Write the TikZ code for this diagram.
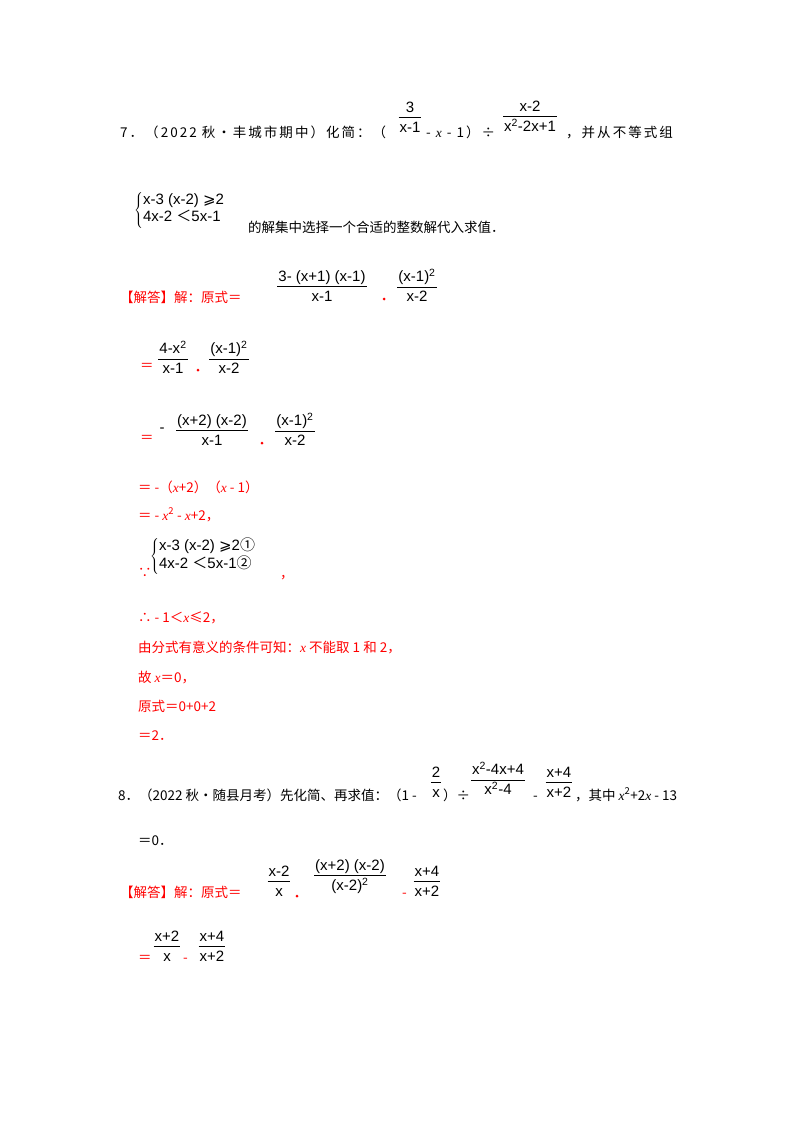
\documentclass[tikz,border=0pt]{standalone}
\usepackage{fontspec}
\setmainfont{Liberation Serif}
\newfontfamily\cjk{Noto Sans CJK SC}
\newfontfamily\cjkw[LetterSpace=15]{Noto Sans CJK SC}
\newfontfamily\ser{Liberation Serif}
\newfontfamily\fs{Liberation Sans}
\newfontfamily\dv{DejaVu Sans}
\newcommand{\X}{{\ser\itshape x}}
\newcommand{\fr}[2]{{\fs\renewcommand{\arraystretch}{1.0}\setlength{\tabcolsep}{1pt}\begin{tabular}{c}#1\rule[-3pt]{0pt}{3pt}\\\hline\rule{0pt}{15pt}#2\end{tabular}}}
\newcommand{\sq}{\textsuperscript{2}}
\tikzset{
 t/.style={anchor=base west,inner sep=0pt,font=\cjk\fontsize{13.5}{16}\selectfont},
 tw/.style={anchor=base west,inner sep=0pt,font=\cjkw\fontsize{13.5}{16}\selectfont},
 r/.style={t,text=red},
 f/.style={anchor=center,inner sep=0pt,font=\fs\fontsize{15}{17}\selectfont},
 br/.style={anchor=west,inner sep=0pt,font=\fs\fontsize{15}{17}\selectfont},
 dt/.style={circle,fill=red,inner sep=0pt,minimum size=3pt}
}
\begin{document}
\begin{tikzpicture}[x=1pt,y=-1pt]
\useasboundingbox (0,0) rectangle (800,1132);
% Problem 7
\node[tw] (p7a) at (120,137) {7．（2022 秋•丰城市期中）化简：（};
\node[f] (f1) at (410,119) {\fr{3}{x-1}};
\node[tw] (p7b) at (426,137) {- \X\ - 1）÷};
\node[f] (f2) at (530,118) {\fr{x-2}{x\sq-2x+1}};
\node[tw] (p7c) at (566,137) {，并从不等式组};
\node[br] (s1) at (134,210) {$\left\{\vcenter{\hbox{\fs\begin{tabular}{@{}l@{}}x-3 (x-2) {\dv ⩾}2\\4x-2 {\cjk ＜}5x-1\end{tabular}}}\right.$};
\node[t] (p7d) at (248,232) {的解集中选择一个合适的整数解代入求值．};
% solution 7
\node[r] (a1) at (120,302) {【解答】解：原式＝};
\node[f] (f3) at (322,288) {\fr{3- (x+1) (x-1)}{x-1}};
\node[dt] (d1) at (384,299) {};
\node[f] (f4) at (417,288) {\fr{(x-1)\sq}{x-2}};
\node[r] (a2) at (140,370) {＝};
\node[f] (f5) at (173,360) {\fr{4-x\sq}{x-1}};
\node[dt] (d2) at (198,370) {};
\node[f] (f6) at (229,360) {\fr{(x-1)\sq}{x-2}};
\node[r] (a3) at (140,442) {＝};
\node[f] (f7) at (212,432) {\fr{(x+2) (x-2)}{x-1}};
\node[anchor=center,inner sep=0pt,font=\fs\fontsize{15}{17}\selectfont] (mn) at (162,430) {-};
\node[dt] (d3) at (262,443) {};
\node[f] (f8) at (295,432) {\fr{(x-1)\sq}{x-2}};
\node[r] (a4) at (138,492) {＝ -（\X+2）（\X\ - 1）};
\node[r] (a5) at (138,520) {＝ - \X\sq\ - \X+2，};
\node[t,text=red] (a6) at (138,577) {∵};
\node[br] (s2) at (150,556) {$\left\{\vcenter{\hbox{\fs\begin{tabular}{@{}l@{}}x-3 (x-2) {\dv ⩾}2{\cjk ①}\\4x-2 {\cjk ＜}5x-1{\cjk ②}\end{tabular}}}\right.$};
\node[r] (a7) at (280,578) {，};
\node[r] (a8) at (138,622) {∴ - 1＜\X≤2，};
\node[r] (a9) at (138,652) {由分式有意义的条件可知：\X\ 不能取 1 和 2，};
\node[r] (a10) at (138,682) {故 \X＝0，};
\node[r] (a11) at (138,711) {原式＝0+0+2};
\node[r] (a12) at (138,740) {＝2．};
% Problem 8
\node[t] (p8a) at (118,800) {8．（2022 秋•随县月考）先化简、再求值：（1 -};
\node[f] (f9) at (436,784) {\fr{2}{x}};
\node[t] (p8b) at (443,800) {）÷};
\node[f] (f10) at (498,781) {\fr{x\sq-4x+4}{x\sq-4}};
\node[t] (p8c) at (533,800) {-};
\node[f] (f11) at (559,784) {\fr{x+4}{x+2}};
\node[t] (p8d) at (575,800) {，其中 \X\sq+2\X\ - 13};
\node[t] (p8e) at (138,845) {＝0．};
\node[r] (b1) at (120,897) {【解答】解：原式＝};
\node[f] (f12) at (279,883) {\fr{x-2}{x}};
\node[dt] (d4) at (297,896) {};
\node[f] (f13) at (350,877) {\fr{(x+2) (x-2)}{(x-2)\sq}};
\node[r] (b2) at (402,897) {-};
\node[f] (f14) at (427,883) {\fr{x+4}{x+2}};
\node[r] (b3) at (138,962) {＝};
\node[f] (f15) at (167,948) {\fr{x+2}{x}};
\node[r] (b4) at (183,962) {-};
\node[f] (f16) at (212,948) {\fr{x+4}{x+2}};
\end{tikzpicture}
\end{document}
